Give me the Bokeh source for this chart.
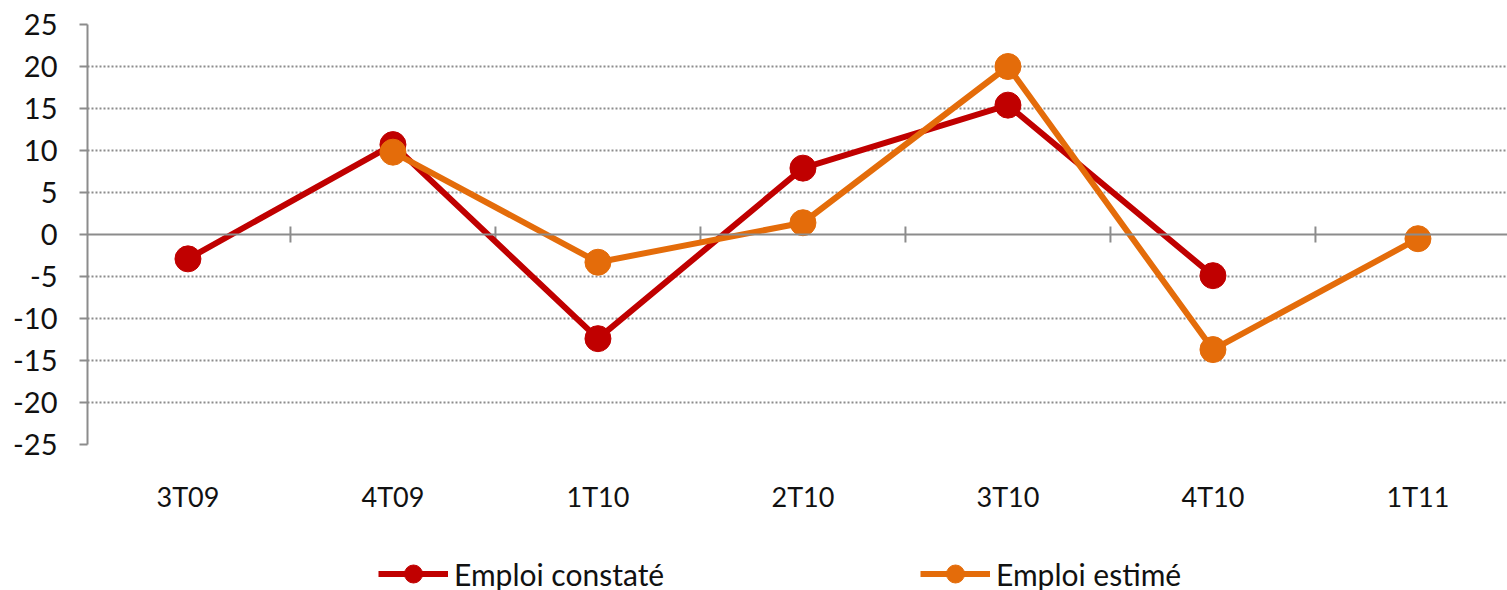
import math
import numpy as np
from bokeh.plotting import figure
from bokeh.layouts import column
from bokeh.models import Range1d, Span, Legend, LegendItem, FixedTicker
from bokeh.embed import file_html
from bokeh.resources import INLINE

categories = ["3T09", "4T09", "1T10", "2T10", "3T10", "4T10", "1T11"]
emploi_constate = [-2.9, 10.7, -12.4, 7.9, 15.4, -4.9, None]
emploi_estime = [None, 9.8, -3.3, 1.4, 20.0, -13.7, -0.5]
y_ticks = [-25, -20, -15, -10, -5, 0, 5, 10, 15, 20, 25]
y_tick_labels = ["-25", "-20", "-15", "-10", "-5", "0", "5", "10", "15", "20", "25"]
series_names = ["Emploi constaté", "Emploi estimé"]

FONT = "Lato"
RED = "#c00000"
ORANGE = "#e46c0a"
AXIS = "#8c8c8c"
TEXT = "#111111"

x = list(range(len(categories)))
const = [np.nan if v is None else v for v in emploi_constate]
est = [np.nan if v is None else v for v in emploi_estime]

frame_w = 1420
cat_px = 205
x_start = -0.49
p = figure(width=1507, height=523,
           x_range=Range1d(x_start, x_start + frame_w / cat_px),
           y_range=Range1d(-25, 25),
           output_backend="svg", toolbar_location=None,
           min_border_left=87, min_border_top=24, min_border_right=0,
           min_border_bottom=79)
p.outline_line_color = None
p.background_fill_color = "white"
p.border_fill_color = "white"

# y axis
p.yaxis.ticker = FixedTicker(ticks=y_ticks)
p.yaxis.major_label_overrides = {t: l for t, l in zip(y_ticks, y_tick_labels)}
p.yaxis.axis_line_color = AXIS
p.yaxis.axis_line_width = 2
p.yaxis.major_tick_line_color = AXIS
p.yaxis.major_tick_line_width = 2
p.yaxis.major_tick_in = 0
p.yaxis.major_tick_out = 8
p.yaxis.minor_tick_line_color = None
p.yaxis.major_label_standoff = 22
p.yaxis.major_label_text_font = FONT
p.yaxis.major_label_text_font_size = "29px"
p.yaxis.major_label_text_color = TEXT

# x axis (category labels)
p.xaxis.ticker = FixedTicker(ticks=x)
p.xaxis.major_label_overrides = {i: c for i, c in zip(x, categories)}
p.xaxis.axis_line_color = None
p.xaxis.major_tick_line_color = None
p.xaxis.minor_tick_line_color = None
p.xaxis.major_label_standoff = 29
p.xaxis.major_label_text_font = FONT
p.xaxis.major_label_text_font_size = "27px"
p.xaxis.major_label_text_color = TEXT

# grid
p.xgrid.visible = False
p.ygrid.ticker = FixedTicker(ticks=[t for t in y_ticks if t != 0])
p.ygrid.grid_line_color = AXIS
p.ygrid.grid_line_width = 2
p.ygrid.grid_line_dash = "2 2"

# zero line with category boundary ticks
p.add_layout(Span(location=0, dimension="width", line_color=AXIS, line_width=2))
bounds = [i + 0.5 for i in x[:-1]]
p.scatter(bounds, [0] * len(bounds), marker="dash", angle=math.pi / 2, size=16,
          line_color=AXIS, line_width=2)

# series
p.line(x, const, line_color=RED, line_width=6)
p.scatter(x, const, size=26, fill_color=RED, line_color=RED)
p.line(x, est, line_color=ORANGE, line_width=6)
p.scatter(x, est, size=26, fill_color=ORANGE, line_color=ORANGE)

# legend strip below the chart (series drawn off-view, only their legend shows)
q = figure(width=1507, height=67, x_range=Range1d(100, 101), y_range=Range1d(100, 101),
           output_backend="svg", toolbar_location=None,
           min_border_left=0, min_border_top=0, min_border_right=0, min_border_bottom=0)
q.axis.visible = False
q.grid.visible = False
q.outline_line_color = None
ql1 = q.line(x, const, line_color=RED, line_width=6)
qs1 = q.scatter(x, const, size=18, fill_color=RED, line_color=RED)
ql2 = q.line(x, est, line_color=ORANGE, line_width=6)
qs2 = q.scatter(x, est, size=18, fill_color=ORANGE, line_color=ORANGE)
legend = Legend(items=[LegendItem(label=series_names[0], renderers=[ql1, qs1], index=1),
                       LegendItem(label=series_names[1], renderers=[ql2, qs2], index=1)],
                orientation="horizontal", location=(291, -6),
                padding=0, margin=0, spacing=0, label_width=466,
                glyph_width=70, glyph_height=45, label_standoff=6,
                border_line_color=None, background_fill_alpha=0,
                label_text_font=FONT, label_text_font_size="30px",
                label_text_color=TEXT)
q.add_layout(legend, "center")

open("out.html", "w").write(file_html(column(p, q, spacing=0), INLINE))
